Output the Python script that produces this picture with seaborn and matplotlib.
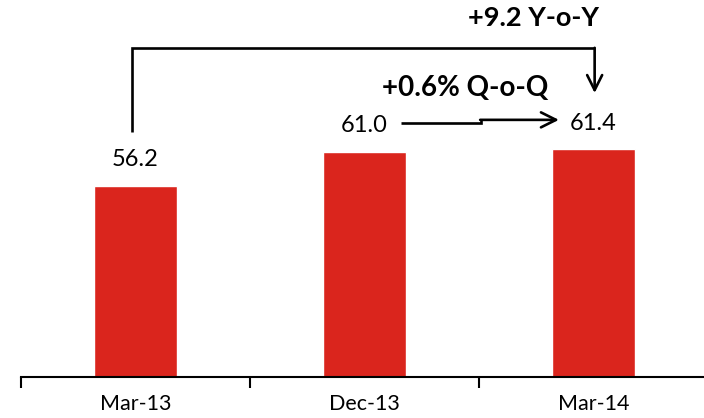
import matplotlib
matplotlib.use("Agg")
import matplotlib.pyplot as plt
import seaborn as sns
import pandas as pd
import numpy as np

categories = ["Mar-13", "Dec-13", "Mar-14"]
values = [56.2, 61.0, 61.4]
value_labels = ["56.2", "61.0", "61.4"]
yoy_text = "+9.2 Y-o-Y"
qoq_text = "+0.6% Q-o-Q"

sns.set_theme(style="white")
plt.rcParams['font.family'] = ['Lato', 'DejaVu Sans']

W, H = 704, 418
fig = plt.figure(figsize=(W / 100, H / 100), dpi=100)
# axes: left 21px, width 687px (extends past right edge), bottom at y=377px from top
ax = fig.add_axes([21 / W, (H - 377) / H, 687 / W, 377 / H])

df = pd.DataFrame({"cat": categories, "val": values})
sns.barplot(data=df, x="cat", y="val", color="#DA251D", saturation=1,
            width=0.36, ax=ax)

ymin = 29.2
ppu = 7.08  # pixels per unit
ax.set_ylim(ymin, ymin + 377 / ppu)
ax.set_xlim(-0.5, 2.5)

# spines
for s in ["top", "right", "left"]:
    ax.spines[s].set_visible(False)
ax.spines["bottom"].set_color("black")
ax.spines["bottom"].set_linewidth(1.5)
ax.set_yticks([])
ax.set_xlabel("")
ax.set_ylabel("")
ax.tick_params(axis="x", which="major", length=0, pad=12, labelsize=15.5,
               labelcolor="black")
ax.set_xticks(np.arange(-0.5, 3.0, 1.0), minor=True)
ax.tick_params(axis="x", which="minor", length=8, width=1.5, color="black",
               direction="out", bottom=True)

# value labels
def off(px):
    return px / ppu

for i, (v, lab) in enumerate(zip(values, value_labels)):
    ax.text(i, v + off(26), lab, ha="center", va="center", fontsize=17,
            color="black")

# Y-o-Y bracket
lw = 1.9
y_low = values[0] + off(54)
y_top = values[0] + off(138)
tip = values[2] + off(56)
ax.plot([0 - 0.015, 0 - 0.015, 2.005], [y_low, y_top, y_top], color="black",
        lw=lw, solid_joinstyle="miter", solid_capstyle="butt")
ax.annotate("", xy=(2.005, tip), xytext=(2.005, y_top),
            arrowprops=dict(arrowstyle="->,head_length=0.9,head_width=0.45",
                            color="black", lw=lw, shrinkA=0, shrinkB=0))
ax.text(1.736, values[2] + off(131), yoy_text, ha="center", va="center",
        fontsize=19.5, fontweight="bold", color="black")

# Q-o-Q arrow with a small jog
y_l = values[1] + off(29)
y_r = values[1] + off(32)
x0, xj, x1 = 1.158, 1.507, 1.849
ax.plot([x0, xj, xj], [y_l, y_l, y_r], color="black", lw=lw,
        solid_capstyle="butt", solid_joinstyle="miter")
ax.annotate("", xy=(x1, y_r), xytext=(xj - 0.002, y_r),
            arrowprops=dict(arrowstyle="->,head_length=0.9,head_width=0.45",
                            color="black", lw=lw, shrinkA=0, shrinkB=0))
ax.text(1.44, values[1] + off(64), qoq_text, ha="center", va="center",
        fontsize=20, fontweight="bold", color="black")

fig.savefig("out.png", dpi=100)
